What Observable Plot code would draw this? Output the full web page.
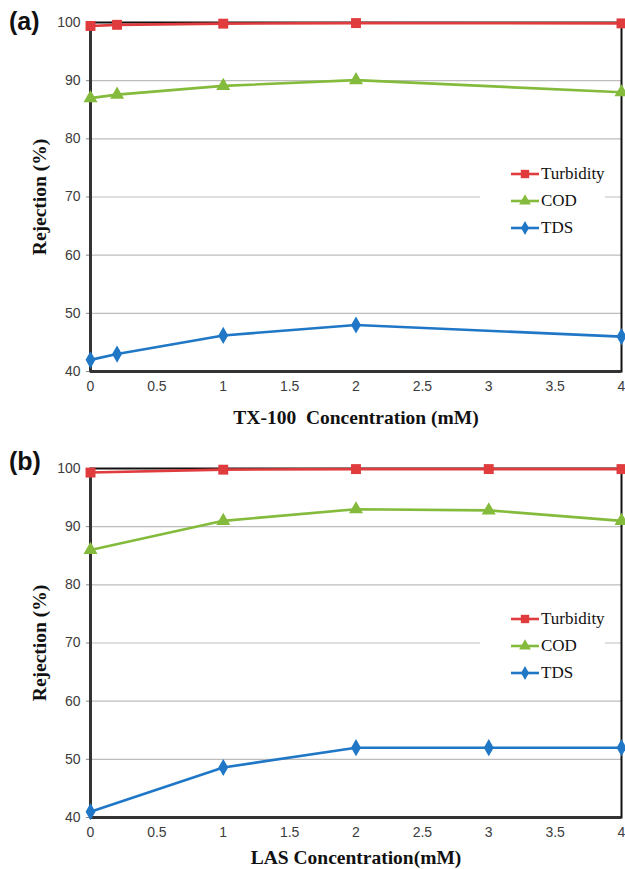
<!DOCTYPE html>
<html>
<head>
<meta charset="utf-8">
<script src="https://cdn.jsdelivr.net/npm/d3@7"></script>
<script src="https://cdn.jsdelivr.net/npm/@observablehq/plot@0.6"></script>
<style>
  html, body { margin: 0; padding: 0; background: #fff; }
  #wrap { position: relative; width: 625px; height: 869px; overflow: hidden; background: #fff; }
  .panel { position: absolute; left: 0; }
  .panel svg { display: block; overflow: visible; }
  .panel g[aria-label="y-axis label"] text,
  .panel g[aria-label="x-axis label"] text {
    font: bold 19.5px "Liberation Serif", serif; fill: #111; white-space: pre;
  }
  .tag { position: absolute; font: bold 25px "Liberation Sans", sans-serif; color: #111; }
  .legend { position: absolute; background: #fff; padding: 0; }
  .legend .row { position: absolute; left: 0; height: 20px; display: flex; align-items: center;
    font: 17px "Liberation Serif", serif; color: #111; white-space: nowrap; }
  .legend svg { margin-right: 1px; }
</style>
</head>
<body>
<div id="wrap"></div>
<script>
// ---- data ----
const seriesNames = ["Turbidity", "COD", "TDS"];
const seriesColors = ["#e03c3e", "#84bb3c", "#1f77c6"];
const seriesSymbols = ["square", "triangle", "diamond"];
const yTicks = [40, 50, 60, 70, 80, 90, 100];
const xTicks = [0, 0.5, 1, 1.5, 2, 2.5, 3, 3.5, 4];

// Panel (a): TX-100
const xA = [0, 0.2, 1, 2, 4];
const turbA = [99.4, 99.6, 99.8, 99.9, 99.85];
const codA = [87.0, 87.6, 89.1, 90.1, 88.0];
const tdsA = [42.0, 43.0, 46.2, 48.0, 46.0];

// Panel (b): LAS
const xB = [0, 1, 2, 3, 4];
const turbB = [99.3, 99.8, 99.9, 99.9, 99.9];
const codB = [86.0, 91.0, 93.0, 92.8, 91.0];
const tdsB = [41.0, 48.6, 52.0, 52.0, 52.0];

function toRows(xs, lists) {
  const rows = [];
  lists.forEach((vals, k) => vals.forEach((v, i) => rows.push({x: xs[i], y: v, s: seriesNames[k]})));
  return rows;
}

function makePlot(rows, opts) {
  const marks = [
    Plot.gridY([50, 60, 70, 80, 90], {stroke: "#bdbdbd", strokeOpacity: 1, strokeWidth: 1.2}),
    Plot.axisY(yTicks, {tickSize: 4, tickPadding: 6, stroke: "#888", fontSize: 14, fill: "#3c3c3c",
      label: "Rejection (%)", labelAnchor: "center", labelArrow: "none", labelOffset: 58}),
    Plot.axisX(xTicks, {tickSize: 0, tickPadding: 10, fontSize: 14, fill: "#3c3c3c",
      tickFormat: d => String(d),
      label: opts.xlabel, labelAnchor: "center", labelArrow: "none", labelOffset: opts.xLabelOffset}),
    Plot.frame({stroke: "#111", strokeWidth: 2}),
    Plot.ruleX([0], {stroke: "#333", strokeWidth: 3}),
    Plot.ruleY([40], {stroke: "#333", strokeWidth: 3})
  ];
  seriesNames.forEach((name, k) => {
    const data = rows.filter(d => d.s === name);
    marks.push(Plot.line(data, {x: "x", y: "y", stroke: seriesColors[k], strokeWidth: 2.6}));
    marks.push(Plot.dot(data, {x: "x", y: "y", symbol: seriesSymbols[k], fill: seriesColors[k],
      stroke: "none", r: name === "Turbidity" ? 5.6 : 5.2}));
  });
  return Plot.plot({
    width: 625,
    height: opts.height,
    marginTop: opts.marginTop,
    marginBottom: opts.marginBottom,
    marginLeft: 90,
    marginRight: 4,
    style: {fontFamily: "'Liberation Sans', sans-serif", background: "transparent", overflow: "visible"},
    x: {domain: [0, 4], ticks: xTicks},
    y: {domain: [40, 100], ticks: yTicks},
    marks
  });
}

function legendRow(k) {
  const ns = "http://www.w3.org/2000/svg";
  const svg = document.createElementNS(ns, "svg");
  svg.setAttribute("width", 30); svg.setAttribute("height", 14);
  const line = document.createElementNS(ns, "line");
  line.setAttribute("x1", 1); line.setAttribute("x2", 29); line.setAttribute("y1", 7); line.setAttribute("y2", 7);
  line.setAttribute("stroke", seriesColors[k]); line.setAttribute("stroke-width", 2.6);
  svg.appendChild(line);
  const sym = d3.symbol(
    [d3.symbolSquare, d3.symbolTriangle, d3.symbolDiamond][k],
    [70, 60, 55][k]
  )();
  const p = document.createElementNS(ns, "path");
  p.setAttribute("d", sym); p.setAttribute("transform", "translate(15,7)");
  p.setAttribute("fill", seriesColors[k]);
  svg.appendChild(p);
  const row = document.createElement("div");
  row.className = "row";
  row.appendChild(svg);
  row.appendChild(document.createTextNode(seriesNames[k]));
  return row;
}

function addPanel(top, plot, tag, legendTop) {
  const wrap = document.getElementById("wrap");
  const div = document.createElement("div");
  div.className = "panel"; div.style.top = top + "px";
  div.appendChild(plot);
  wrap.appendChild(div);
  const t = document.createElement("div");
  t.className = "tag"; t.textContent = tag;
  t.style.left = "9px"; t.style.top = (top + 7) + "px";
  wrap.appendChild(t);
  const lg = document.createElement("div");
  lg.className = "legend";
  lg.style.left = "480px"; lg.style.top = legendTop + "px";
  lg.style.width = "125px"; lg.style.height = "80px";
  seriesNames.forEach((n, k) => {
    const r = legendRow(k);
    r.style.left = "30px"; r.style.top = (4 + k * 27) + "px";
    lg.appendChild(r);
  });
  wrap.appendChild(lg);
}

const plotA = makePlot(toRows(xA, [turbA, codA, tdsA]), {
  height: 440, marginTop: 22, marginBottom: 69,
  xlabel: "TX-100  Concentration (mM)", xLabelOffset: 52
});
addPanel(0, plotA, "(a)", 160);

const plotB = makePlot(toRows(xB, [turbB, codB, tdsB]), {
  height: 429, marginTop: 28, marginBottom: 52,
  xlabel: "LAS Concentration(mM)", xLabelOffset: 46
});
addPanel(440, plotB, "(b)", 605);
</script>
</body>
</html>
